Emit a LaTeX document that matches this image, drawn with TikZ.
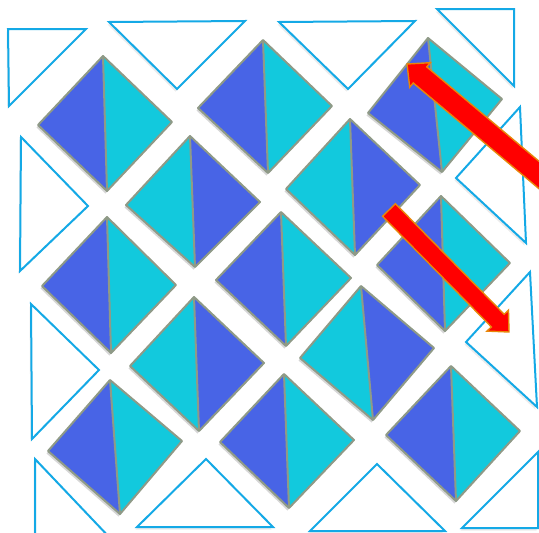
\documentclass[tikz,border=0pt]{standalone}
\usetikzlibrary{calc}
\definecolor{dblue}{HTML}{4864E6}
\definecolor{dcyan}{HTML}{12C9DD}
\definecolor{dgray}{HTML}{8F9A87}
\definecolor{tline}{HTML}{14A9E6}
\definecolor{aorange}{HTML}{E8870A}
\tikzset{
  dline/.style={draw=dgray,line width=2pt,line join=round},
  tri/.style={draw=tline,fill=white,line width=2pt,line join=miter},
  shad/.style={fill=black,opacity=0.16,xshift=-1.5pt,yshift=-2.5pt},
  redarr/.style={fill=red,draw=aorange,line width=1.4pt,line join=miter}
}
\newcommand\dpair[6]{%
  \fill[shad] #1--#2--#4--#3--cycle;
  \fill[#5] #1--#2--#4--cycle;
  \fill[#6] #1--#3--#4--cycle;
  \draw[dline] #1--#2--#4--#3--cycle;
  \draw[dline] #1--#4;
}
\newcommand\otri[3]{%
  \fill[shad,opacity=0.08] #1--#2--#3--cycle;
  \draw[tri] #1--#2--#3--cycle;
}
\newcommand\redarrow[5]{% tail, tip, shaft half width, head half width, head length
  \coordinate (ra-tail) at #1;
  \coordinate (ra-tip) at #2;
  \coordinate (ra-hb) at ($(ra-tip)!#5!(ra-tail)$);
  \draw[redarr] ($(ra-tail)!#3!90:(ra-tip)$) -- ($(ra-hb)!#3!-90:(ra-tail)$)
     -- ($(ra-hb)!#4!-90:(ra-tail)$) -- (ra-tip) -- ($(ra-hb)!#4!90:(ra-tail)$)
     -- ($(ra-hb)!#3!90:(ra-tail)$) -- ($(ra-tail)!#3!-90:(ra-tip)$) -- cycle;
}
\begin{document}
\begin{tikzpicture}[x=1pt,y=-1pt]
\useasboundingbox (0,0) rectangle (539,533);
\clip (0,0) rectangle (539,533);
% outline triangles
\otri{(8,29)}{(86,29)}{(9,106)}
\otri{(109,22)}{(245,21)}{(177,89)}
\otri{(279,22)}{(415,21)}{(348,89)}
\otri{(437,9)}{(514,9)}{(514,86)}
\otri{(21,137)}{(88,206)}{(20,271)}
\otri{(520,107)}{(456,178)}{(526,243)}
\otri{(31,304)}{(99,370)}{(32,439)}
\otri{(530,272)}{(466,342)}{(537,407)}
\otri{(35,459)}{(35,540)}{(112,540)}
\otri{(206,459)}{(137,527)}{(273,527)}
\otri{(377,464)}{(310,531)}{(445,531)}
\otri{(538,452)}{(462,528)}{(538,528)}
% diamonds
\dpair{(103,56)}{(38,125)}{(172,122)}{(107,191)}{dblue}{dcyan}
\dpair{(263,40)}{(198,108)}{(332,106)}{(268,173)}{dblue}{dcyan}
\dpair{(428,38)}{(368,113)}{(502,99)}{(442,172)}{dblue}{dcyan}
\dpair{(190,136)}{(126,205)}{(260,202)}{(195,267)}{dcyan}{dblue}
\dpair{(350,119)}{(286,189)}{(420,185)}{(355,255)}{dcyan}{dblue}
\dpair{(107,217)}{(42,286)}{(176,285)}{(111,353)}{dblue}{dcyan}
\dpair{(281,212)}{(216,280)}{(351,278)}{(286,346)}{dblue}{dcyan}
\dpair{(441,196)}{(377,265)}{(510,263)}{(445,331)}{dblue}{dcyan}
\dpair{(194,297)}{(130,366)}{(264,363)}{(199,431)}{dcyan}{dblue}
\dpair{(361,286)}{(300,358)}{(434,348)}{(373,420)}{dcyan}{dblue}
\dpair{(110,380)}{(48,451)}{(182,441)}{(120,514)}{dblue}{dcyan}
\dpair{(284,374)}{(220,442)}{(354,440)}{(289,508)}{dblue}{dcyan}
\dpair{(451,366)}{(386,435)}{(520,431)}{(456,501)}{dblue}{dcyan}
% red arrows
\redarrow{(583,212)}{(407,64)}{10.5pt}{16pt}{17pt}
\redarrow{(389,210)}{(509,332)}{9pt}{15pt}{16pt}
\end{tikzpicture}
\end{document}
